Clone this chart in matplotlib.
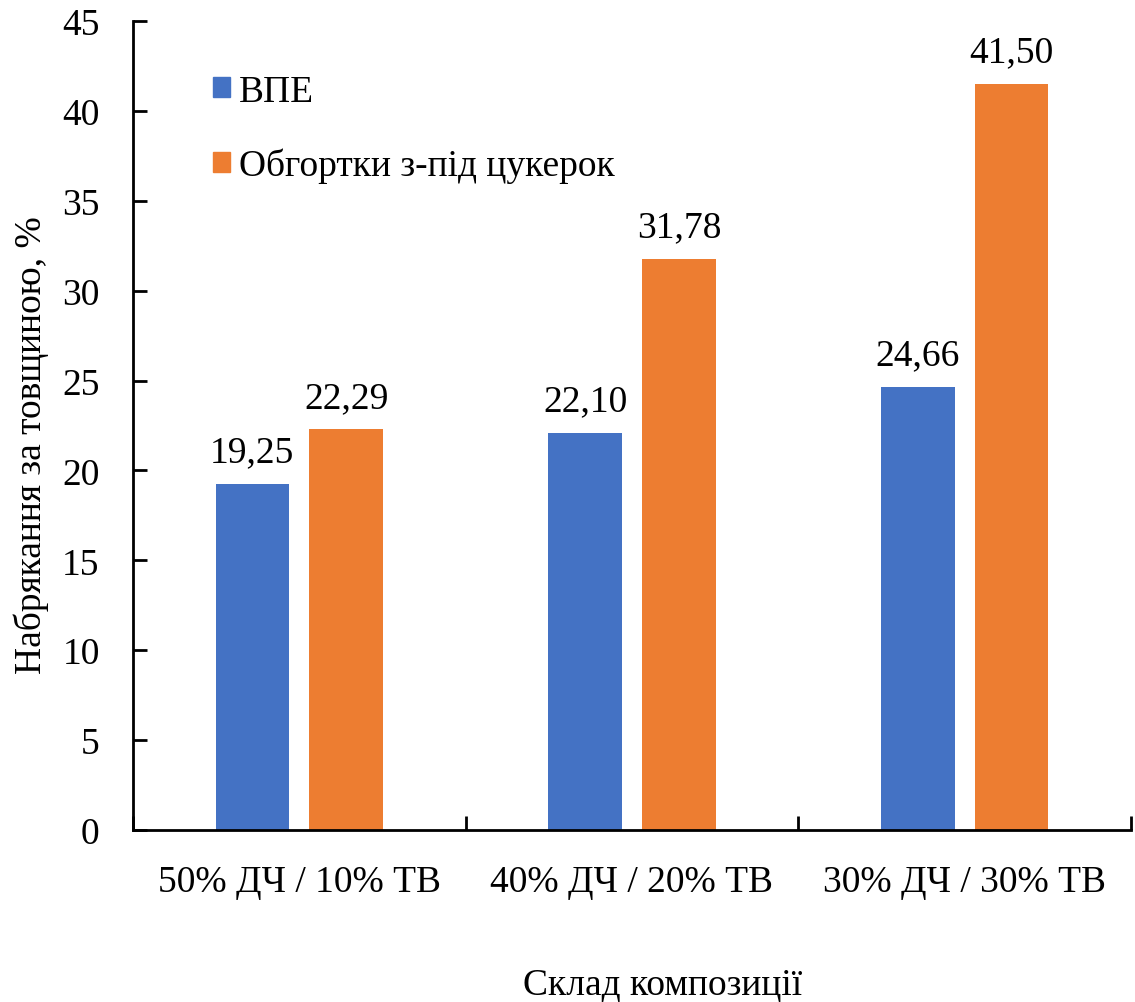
import matplotlib
matplotlib.use("Agg")
import matplotlib.pyplot as plt
import numpy as np
from matplotlib.patches import Patch

plt.rcParams['font.family'] = ['Liberation Serif', 'DejaVu Serif']

categories = ["50% ДЧ / 10% ТВ", "40% ДЧ / 20% ТВ", "30% ДЧ / 30% ТВ"]
series_names = ["ВПЕ", "Обгортки з-під цукерок"]
vpe = [19.25, 22.10, 24.66]
wrappers = [22.29, 31.78, 41.50]
colors = ["#4472C4", "#ED7D31"]

FS = 27

fig = plt.figure(figsize=(11.35, 10.03), dpi=100)
ax = fig.add_axes([133/1135, 1 - 831/1003, (1131-133)/1135, (831-22)/1003])

x = np.arange(len(categories))
w = 0.222
off = 0.141
b1 = ax.bar(x - off, vpe, w, color=colors[0])
b2 = ax.bar(x + off, wrappers, w, color=colors[1])

for bars, vals in ((b1, vpe), (b2, wrappers)):
    for r, v in zip(bars, vals):
        ax.text(r.get_x() + r.get_width()/2, v + 0.8, f"{v:.2f}".replace('.', ','),
                ha='center', va='bottom', fontsize=FS)

ax.set_xlim(-0.5, 2.5)
ax.set_ylim(0, 45)
ax.set_yticks(np.arange(0, 46, 5))
ax.tick_params(axis='y', direction='in', length=10, width=2, labelsize=FS, pad=24)
ax.set_xticks(x)
ax.set_xticklabels(categories, fontsize=FS)
ax.tick_params(axis='x', length=0, pad=25)
ax.set_xticks([-0.5, 0.5, 1.5, 2.5], minor=True)
ax.tick_params(axis='x', which='minor', direction='in', length=10, width=2)
for s in ('top', 'right'):
    ax.spines[s].set_visible(False)
for s in ('left', 'bottom'):
    ax.spines[s].set_linewidth(2)

fig.text(31/1135, 1 - 445/1003, "Набрякання за товщиною, %", rotation=90,
         ha='center', va='center', fontsize=FS)
fig.text(663/1135, 1 - 985/1003, "Склад композиції", ha='center', va='center', fontsize=FS)

handles = [Patch(color=c) for c in colors]
ax.legend(handles, series_names, loc='upper left', bbox_to_anchor=(0.065, 0.953),
          frameon=False, fontsize=FS, handlelength=0.45, handleheight=0.45,
          handletextpad=0.25, labelspacing=1.05, borderaxespad=0)

fig.savefig("out.png", dpi=100)
